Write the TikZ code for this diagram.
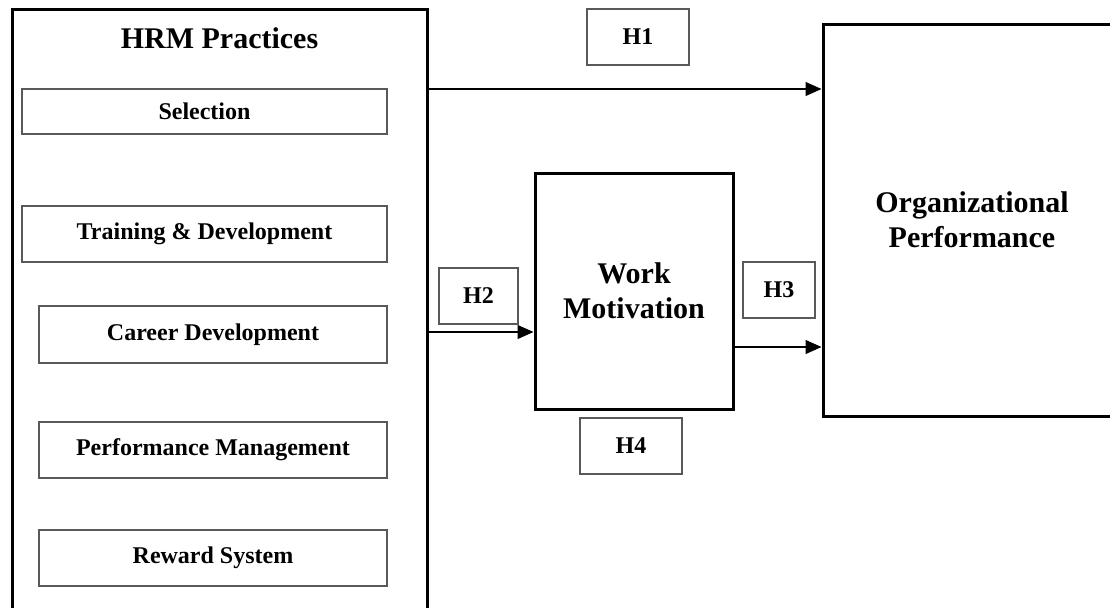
\documentclass[tikz,border=0pt]{standalone}
\usepackage{fontspec}
\setmainfont{Liberation Serif}
\usetikzlibrary{arrows.meta,positioning,calc}
\tikzset{
	framework/.style={
		x=0.5pt, y=-0.5pt,
		every node/.style={inner sep=0pt},
		ar/.style={line width=0.6pt, -{Triangle[length=8pt,width=7pt]}}
		},
	big font/.style={font=\fontsize{15}{17.5}\selectfont\bfseries},
	small font/.style={font=\fontsize{12}{14}\selectfont\bfseries},
	big box/.style={draw, line width=1.5pt, align=center, big font},
	item box/.style={draw=black!65, line width=0.6pt, minimum width=182.5pt, minimum height=28pt, small font},
	hyp/.style={draw=black!65, line width=0.6pt, minimum height=28pt, minimum width=#1, small font},
	hyp/.default=51pt
}

\begin{document}
\begin{tikzpicture}[framework]
  \clip (0,0) rectangle (1110,607);
  \node[big box, minimum width=207.5pt, minimum height=305.5pt] (HRM) at (219.5,314.5) {};
  \node[big font, anchor=base] (HRMtitle) at (219.5,48) {HRM Practices};
  \node[item box, minimum height=22.5pt] (Sel) at (204.5,111.5) {Selection};
  \node[item box] (TD) at (204.5,234) {Training \& Development};
  \node[item box, minimum width=174pt, minimum height=28.5pt] (CD) at (213,334.5) {Career Development};
  \node[item box, minimum width=174pt] (PM) at (213,450) {Performance Management};
  \node[item box, minimum width=174pt] (RS) at (213,558) {Reward System};
  \node[big box, minimum width=99pt, minimum height=118pt] (WM) at (634,291) {Work\\Motivation};
  \node[big box, minimum width=149pt, minimum height=196pt] (OP) at (972,220) {Organizational\\Performance};
  \node[hyp] (H1) at (638,37) {H1};
  \node[hyp=39.5pt] (H2) at (478.5,296) {H2};
  \node[hyp=36pt] (H3) at (779,290) {H3};
  \node[hyp] (H4) at (631,446) {H4};
  \draw[ar] (HRM.east |- 0,89) -- (OP.west |- 0,89);
  \draw[ar] (HRM.east |- 0,332) -- (WM.west |- 0,332);
  \draw[ar] (WM.east |- 0,347) -- (OP.west |- 0,347);
\end{tikzpicture}
\end{document}
